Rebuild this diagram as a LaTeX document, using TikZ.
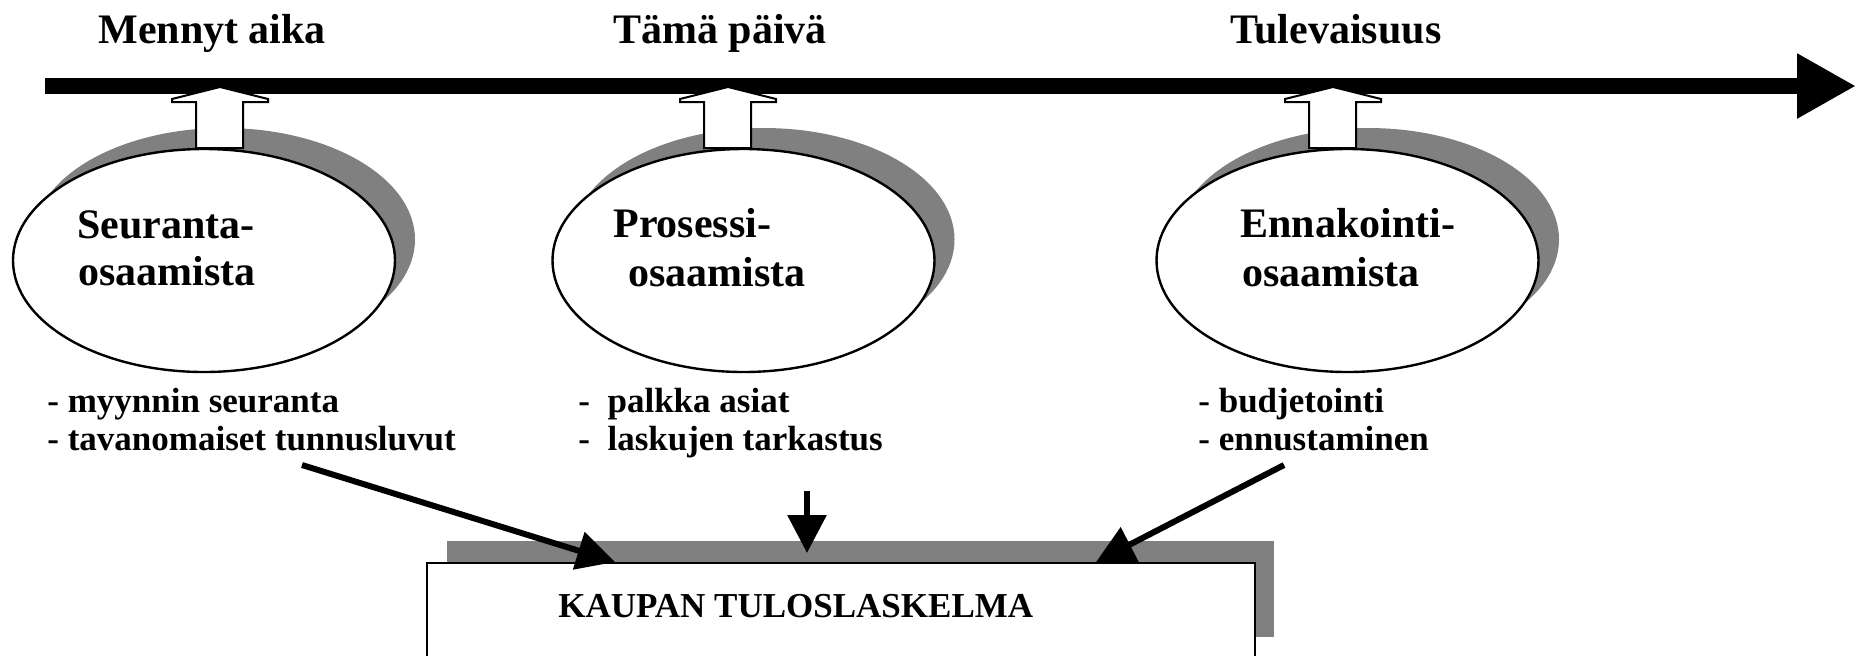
\documentclass[tikz,border=0pt]{standalone}
\usepackage{fontspec}
\setmainfont{Liberation Serif}
\usetikzlibrary{arrows.meta,shapes.geometric}
\begin{document}
\begin{tikzpicture}[x=0.5pt,y=-0.5pt,
  bubble/.style={ellipse,draw=black,fill=white,line width=1.2pt,minimum width=191pt,minimum height=111.5pt,inner sep=0},
  bubbleshadow/.style={ellipse,fill=black!50,draw=none,minimum width=191pt,minimum height=111.5pt,inner sep=0},
  hollow/.style={draw=black,fill=white,line width=1pt,line join=miter},
  bigtxt/.style={font=\bfseries\fontsize{21}{24}\selectfont,inner sep=0,anchor=base west},
  smalltxt/.style={font=\bfseries\fontsize{17.5}{19}\selectfont,inner sep=0,anchor=base west},
  feed/.style={line width=3pt,-{Triangle[length=19pt,width=19pt]}},
  timeline/.style={line width=8pt,-{Triangle[length=29.5pt,width=30.5pt]}},
]
\useasboundingbox (0,0) rectangle (1856,655);
\clip (0,0) rectangle (1856,655);

% top labels
\node[bigtxt] (past) at (98,43) {Mennyt aika};
\node[bigtxt] (today) at (613,43) {Tämä päivä};
\node[bigtxt] (future) at (1230,43) {Tulevaisuus};

% timeline
\coordinate (tl0) at (45,86);
\coordinate (tl1) at (1856,86);
\draw[timeline] (tl0) -- (tl1);

% ellipse shadows
\node[bubbleshadow] (sh1) at (224,239.5) {};
\node[bubbleshadow] (sh2) at (763.5,239.5) {};
\node[bubbleshadow] (sh3) at (1368,239.5) {};

% hollow arrows
\foreach \x in {220,728,1333}{
  \draw[hollow] (\x,87) -- ++(48,12) -- ++(0,3) -- ++(-25,0) -- ++(0,46)
    -- ++(-47,0) -- ++(0,-46) -- ++(-24,0) -- ++(0,-3) -- cycle;
}

% ellipses
\node[bubble] (e1) at (204,260.5) {};
\node[bubble] (e2) at (743.5,260.5) {};
\node[bubble] (e3) at (1347.5,260.5) {};

\node[bigtxt] (e1a) at (77,238) {Seuranta-};
\node[bigtxt] (e1b) at (78,285) {osaamista};
\node[bigtxt] (e2a) at (613,237) {Prosessi-};
\node[bigtxt] (e2b) at (628,286) {osaamista};
\node[bigtxt] (e3a) at (1240,237) {Ennakointi-};
\node[bigtxt] (e3b) at (1242,286) {osaamista};

% bullet lists
\node[smalltxt] (l1a) at (47,412) {- myynnin seuranta};
\node[smalltxt] (l1b) at (47,450) {- tavanomaiset tunnusluvut};
\node[smalltxt] (l2a) at (578,412) {-\ \ palkka asiat};
\node[smalltxt] (l2b) at (578,450) {-\ \ laskujen tarkastus};
\node[smalltxt] (l3a) at (1198,412) {- budjetointi};
\node[smalltxt] (l3b) at (1198,450) {- ennustaminen};

% result box
\fill[black!50] (447,541) rectangle (1274,637);
\node[draw=black,fill=white,line width=1.2pt,minimum width=414pt,minimum height=100pt,anchor=north west,inner sep=0] (box) at (426,562) {};
\node[smalltxt] (boxtxt) at (558,617) {KAUPAN TULOSLASKELMA};

% feeding arrows
\coordinate (s1) at (302,465);
\coordinate (b1) at (615,562);
\coordinate (s2) at (807,491);
\coordinate (b2) at (807,553);
\coordinate (s3) at (1284,465);
\coordinate (b3) at (1096,562);
\draw[feed] (s1) -- (b1);
\draw[feed] (s2) -- (b2);
\draw[feed] (s3) -- (b3);
\end{tikzpicture}
\end{document}
